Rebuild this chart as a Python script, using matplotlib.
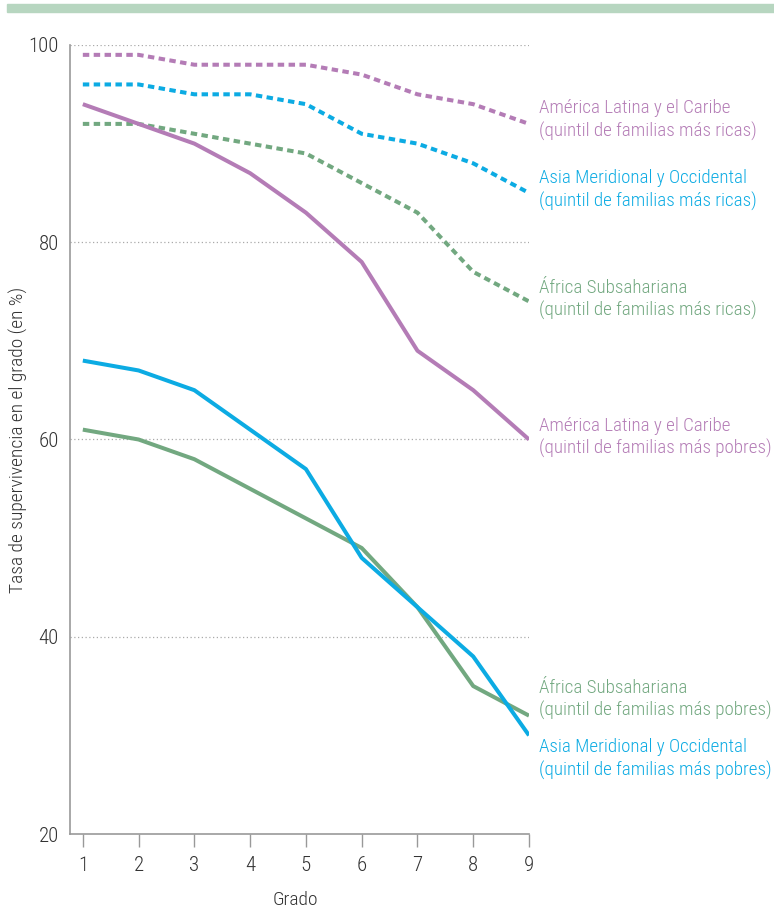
import matplotlib
matplotlib.use("Agg")
import matplotlib.pyplot as plt
import matplotlib.patches as mpatches

grades = [1, 2, 3, 4, 5, 6, 7, 8, 9]
lac_rich = [99, 99, 98, 98, 98, 97, 95, 94, 92]
asia_rich = [96, 96, 95, 95, 94, 91, 90, 88, 85]
africa_rich = [92, 92, 91, 90, 89, 86, 83, 77, 74]
lac_poor = [94, 92, 90, 87, 83, 78, 69, 65, 60]
asia_poor = [68, 67, 65, 61, 57, 48, 43, 38, 30]
africa_poor = [61, 60, 58, 55, 52, 49, 43, 35, 32]
y_ticks = [20, 40, 60, 80, 100]

labels = [
    "América Latina y el Caribe\n(quintil de familias más ricas)",
    "Asia Meridional y Occidental\n(quintil de familias más ricas)",
    "África Subsahariana\n(quintil de familias más ricas)",
    "América Latina y el Caribe\n(quintil de familias más pobres)",
    "África Subsahariana\n(quintil de familias más pobres)",
    "Asia Meridional y Occidental\n(quintil de familias más pobres)",
]
label_y = [92.4, 85.3, 74.2, 60.2, 33.6, 27.6]

PURPLE = "#b47cb6"
BLUE = "#0cabe3"
GREEN = "#72a880"

plt.rcParams['font.family'] = ["Roboto Condensed", "DejaVu Sans"]
plt.rcParams['font.weight'] = "light"
plt.rcParams['axes.labelweight'] = "light"

fig = plt.figure(figsize=(7.74, 9.13), dpi=100)
ax = fig.add_axes([70/774, (913-834)/913, (529-70)/774, (834-45)/913])

# top band
fig.patches.append(mpatches.Rectangle((7/774, 1-12/913), 1, 8/913, transform=fig.transFigure,
                                      color="#b7d6c0", zorder=0))

for yv in y_ticks[1:]:
    ax.axhline(yv, color="#aaaaaa", lw=0.9, ls=(0, (1, 2)), zorder=1)

dash = (0, (1.6, 1.1))
lw = 2.9
series = [
    (lac_rich, PURPLE, dash),
    (asia_rich, BLUE, dash),
    (africa_rich, GREEN, dash),
    (lac_poor, PURPLE, "-"),
    (africa_poor, GREEN, "-"),
    (asia_poor, BLUE, "-"),
]
for vals, c, ls in series:
    ax.plot(grades, vals, color=c, lw=lw, ls=ls, dash_capstyle="butt",
            solid_capstyle="butt", zorder=3)

colors = [PURPLE, BLUE, GREEN, PURPLE, GREEN, BLUE]
for lab, yv, c in zip(labels, label_y, colors):
    ax.text(1.022, yv, lab, transform=ax.get_yaxis_transform(), color=c, fontsize=13.7,
            va="center", ha="left", linespacing=1.28, clip_on=False)

ax.set_xlim(0.77, 9)
ax.set_ylim(20, 100)
ax.set_xticks(grades)
ax.set_yticks(y_ticks)
for s in ["top", "right"]:
    ax.spines[s].set_visible(False)
for s in ["left", "bottom"]:
    ax.spines[s].set_color("#999999")
    ax.spines[s].set_linewidth(1.2)
ax.tick_params(axis="x", direction="out", length=9, width=1, color="#999999", labelsize=15,
               labelcolor="#333333", pad=7)
ax.tick_params(axis="y", length=0, labelsize=15, labelcolor="#333333", pad=8)
ax.set_xlabel("Grado", fontsize=14, color="#333333", fontweight="light")
ax.set_ylabel("Tasa de supervivencia en el grado (en %)", fontsize=14, color="#333333",
              fontweight="light")
ax.xaxis.set_label_coords(0.49, -0.084)
ax.yaxis.set_label_coords(-0.113, 0.5)
ax.yaxis.label.set_va("center")
ax.xaxis.label.set_va("center")

fig.savefig("out.png", dpi=100)
